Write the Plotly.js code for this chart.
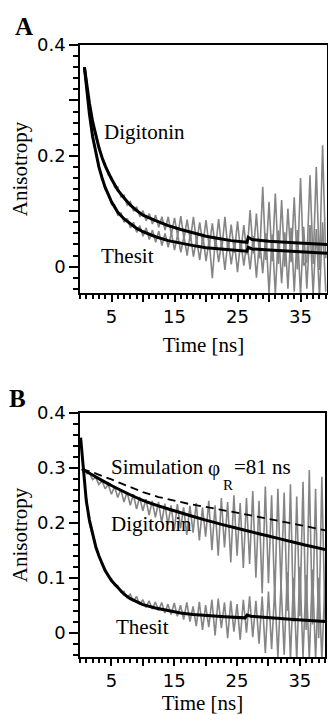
<!DOCTYPE html>
<html>
<head>
<meta charset="utf-8">
<script src="https://cdn.plot.ly/plotly-3.0.1.min.js"></script>
<style>
html,body{margin:0;padding:0;background:#fff;}
#chart{width:328px;height:715px;}
</style>
</head>
<body>
<div id="chart"></div>
<script>
// ---------- shared time grid of the measured (noisy) data, ns ----------
const timeGrid = [1,1.5,2,2.5,3,3.5,4,4.5,5,5.5,6,6.5,7,7.5,8,8.5,9,9.5,10,10.5,
  11,11.5,12,12.5,13,13.5,14,14.5,15,15.5,16,16.5,17,17.5,18,18.5,19,19.5,20,20.5,
  21,21.5,22,22.5,23,23.5,24,24.5,25,25.5,26,26.5,27,27.5,28,28.5,29,29.5,30,30.5,
  31,31.5,32,32.5,33,33.5,34,34.5,35,35.5,36,36.5,37,37.5,38,38.5,39];

// ---------- Panel A : measured anisotropy ----------
const dataA_digitonin = [0.338,0.292,0.265,0.233,0.218,0.194,0.186,0.165,0.162,0.143,
  0.144,0.126,0.129,0.111,0.117,0.100,0.108,0.090,0.101,0.083,
  0.096,0.077,0.093,0.071,0.090,0.066,0.090,0.058,0.088,0.055,
  0.091,0.050,0.085,0.047,0.090,0.043,0.080,0.040,0.084,0.036,
  0.078,0.033,0.086,0.030,0.090,0.028,0.076,0.025,0.082,0.026,
  0.075,0.022,0.102,0.024,0.096,0.015,0.144,0.012,0.117,0.010,
  0.132,0.005,0.120,0.000,0.105,0.008,0.125,-0.005,0.160,0.002,
  0.010,0.165,0.005,0.180,-0.006,0.219,0.015];
const dataA_thesit = [0.322,0.279,0.232,0.208,0.177,0.163,0.139,0.133,0.112,0.111,
  0.093,0.097,0.080,0.087,0.070,0.080,0.062,0.074,0.055,0.070,
  0.049,0.066,0.044,0.064,0.038,0.060,0.035,0.062,0.030,0.058,
  0.026,0.055,0.020,0.060,0.018,0.050,0.012,0.056,0.010,0.048,
  -0.021,0.054,0.008,0.046,-0.006,0.050,0.004,0.045,-0.010,0.048,
  0.002,0.044,-0.005,0.055,-0.020,0.050,-0.012,0.060,-0.048,0.058,
  -0.050,0.065,-0.030,0.062,-0.040,0.070,-0.045,0.066,-0.052,0.072,
  -0.040,0.075,-0.050,0.068,-0.055,0.080,-0.045];

// ---------- Panel A : fitted curves ----------
const fitTimeA = [0.7,1.0,1.5,2.0,2.5,3.0,3.5,4.0,5.0,6.0,7.0,8.0,9.0,10,12,14,16,18,20,22,24,26.5,26.7,27.3,30,34,39.2];
const fitA_digitonin = [0.36,0.335,0.295,0.262,0.236,0.215,0.197,0.182,0.158,0.138,0.124,0.111,0.101,0.093,
  0.083,0.074,0.067,0.061,0.055,0.051,0.047,0.044,0.053,0.049,0.046,0.043,0.040];
const fitA_thesit = [0.36,0.325,0.275,0.235,0.205,0.180,0.160,0.143,0.117,0.098,0.086,0.077,0.069,0.063,
  0.054,0.047,0.042,0.038,0.034,0.032,0.030,0.028,0.035,0.032,0.030,0.027,0.024];

// ---------- Panel B : measured anisotropy ----------
const dataB_digitonin = [0.289,0.291,0.279,0.283,0.270,0.277,0.262,0.270,0.252,0.266,
  0.246,0.261,0.238,0.256,0.232,0.252,0.225,0.247,0.222,0.243,
  0.214,0.240,0.210,0.238,0.200,0.235,0.196,0.232,0.186,0.234,
  0.190,0.228,0.178,0.231,0.182,0.236,0.168,0.228,0.175,0.240,
  0.150,0.232,0.140,0.245,0.155,0.238,0.128,0.250,0.140,0.236,
  0.118,0.245,0.125,0.258,0.100,0.240,0.072,0.266,0.090,0.250,
  0.060,0.262,0.080,0.255,0.040,0.270,0.020,0.248,0.030,0.275,
  0.005,0.296,0.015,0.262,-0.010,0.284,0.020];
const dataB_thesit = [0.247,0.198,0.177,0.152,0.140,0.123,0.116,0.102,0.098,0.086,
  0.086,0.074,0.075,0.064,0.070,0.057,0.066,0.051,0.060,0.046,
  0.058,0.043,0.056,0.040,0.055,0.036,0.052,0.033,0.054,0.030,
  0.050,0.024,0.055,0.020,0.048,0.012,0.056,0.005,0.050,0.010,
  0.060,-0.005,0.062,0.008,0.055,-0.010,0.058,0.002,0.052,-0.013,
  0.060,0.000,0.066,-0.008,0.058,-0.020,0.066,-0.037,0.075,-0.030,
  0.080,-0.045,0.090,-0.040,0.110,-0.048,0.100,-0.050,0.120,-0.045,
  0.105,-0.050,0.115,-0.048,0.100,-0.050,0.095];

// ---------- Panel B : fitted curves and simulation ----------
const fitTimeB_thesit = [0.1,0.5,1.0,1.5,2.0,2.5,3.0,4.0,5.0,6.0,7.0,8.0,9.0,10,12,14,16,18,20,23,26.3,26.6,27.2,30,34,39.2];
const fitB_thesit = [0.355,0.298,0.240,0.205,0.178,0.157,0.140,0.113,0.095,0.082,0.070,0.062,0.056,0.051,
  0.045,0.040,0.036,0.033,0.031,0.029,0.027,0.032,0.030,0.027,0.024,0.020];
const fitTimeB_digitonin = [0.3,2,5,10,15,20,25,30,35,39.2];
const fitB_digitonin = [0.298,0.287,0.268,0.241,0.222,0.205,0.190,0.176,0.162,0.151];
const simTimeB = [0.3,2,5,7.5,10,12.5,15,17.5,20,22.5,25,27.5,30,32.5,35,37.5,39.2];
const simB = [0.298,0.292,0.279,0.267,0.256,0.247,0.240,0.234,0.229,0.224,0.219,0.213,0.207,0.202,0.196,0.190,0.186];

// ---------- tick labels ----------
const xTickVals = [5,10,15,20,25,30,35];
const xTickText = ['5','','15','','25','','35'];
const yTickValsA = [0,0.1,0.2,0.3,0.4];
const yTickTextA = ['0','','0.2','','0.4'];
const yTickValsB = [0,0.1,0.2,0.3,0.4];
const yTickTextB = ['0','0.1','0.2','0.3','0.4'];
const xMinorStep = 1;      // ns between minor ticks
const yMinorStep = 0.02;   // anisotropy units between minor ticks

// ---------- drawing ----------
const GRAY = '#858585';
const SERIF = 'Liberation Serif, Times New Roman, serif';
const SANS = 'DejaVu Sans, Arial, sans-serif';

function noisy(x, y, xa, ya) {
  return {x: x, y: y, xaxis: xa, yaxis: ya, type: 'scatter', mode: 'lines',
    line: {color: GRAY, width: 1.6}, hoverinfo: 'skip'};
}
function fit(x, y, xa, ya, dash, w) {
  return {x: x, y: y, xaxis: xa, yaxis: ya, type: 'scatter', mode: 'lines',
    line: {color: '#000', width: w || 3, dash: dash || 'solid'}, hoverinfo: 'skip'};
}

const traces = [
  noisy(timeGrid, dataA_digitonin, 'x', 'y'),
  noisy(timeGrid, dataA_thesit, 'x', 'y'),
  fit(fitTimeA, fitA_digitonin, 'x', 'y'),
  fit(fitTimeA, fitA_thesit, 'x', 'y'),
  noisy(timeGrid, dataB_digitonin, 'x2', 'y2'),
  noisy(timeGrid, dataB_thesit, 'x2', 'y2'),
  fit(simTimeB, simB, 'x2', 'y2', '8px,5px', 1.8),
  fit(fitTimeB_digitonin, fitB_digitonin, 'x2', 'y2'),
  fit(fitTimeB_thesit, fitB_thesit, 'x2', 'y2')
];
traces[7].line.shape = 'spline';

function xAxis(domain, anchor, range, standoff) {
  return {domain: domain, anchor: anchor, range: range,
    tickmode: 'array', tickvals: xTickVals, ticktext: xTickText,
    ticks: 'outside', ticklen: 7, tickwidth: 2, tickcolor: '#000',
    minor: {ticks: 'outside', tickmode: 'linear', tick0: 0, dtick: xMinorStep, ticklen: 4, tickwidth: 1.5, tickcolor: '#000'},
    showline: true, linecolor: '#000', linewidth: 1.5, mirror: true,
    showgrid: false, zeroline: false,
    tickfont: {family: SANS, size: 18, color: '#000'},
    title: {text: 'Time [ns]', font: {family: SERIF, size: 21, color: '#000'}, standoff: standoff}};
}
function yAxis(domain, anchor, range, vals, text) {
  return {domain: domain, anchor: anchor, range: range,
    tickmode: 'array', tickvals: vals, ticktext: text,
    ticks: 'outside', ticklen: 9, tickwidth: 2, tickcolor: '#000',
    minor: {ticks: 'outside', tickmode: 'linear', tick0: 0, dtick: yMinorStep, ticklen: 5, tickwidth: 1.5, tickcolor: '#000'},
    showline: true, linecolor: '#000', linewidth: 1.5, mirror: true,
    showgrid: false, zeroline: false,
    tickfont: {family: SANS, size: 18, color: '#000'},
    title: {text: 'Anisotropy', font: {family: SERIF, size: 21, color: '#000'}, standoff: 4}};
}

function label(text, x, y, xref, yref, size) {
  return {text: text, x: x, y: y, xref: xref, yref: yref, xanchor: 'left', yanchor: 'middle',
    showarrow: false, borderpad: 0, font: {family: SERIF, size: size || 21, color: '#000'}};
}

const layout = {
  width: 328, height: 715,
  margin: {l: 80, r: 1, t: 45, b: 58},
  paper_bgcolor: '#fff', plot_bgcolor: '#fff',
  showlegend: false,
  xaxis: xAxis([0, 1], 'y', [0, 39.2], 11),
  yaxis: yAxis([0.5948, 1], 'x', [-0.0475, 0.4], yTickValsA, yTickTextA),
  xaxis2: xAxis([0, 0.9919], 'y2', [0, 39], 8),
  yaxis2: yAxis([0, 0.3987], 'x2', [-0.0443, 0.4], yTickValsB, yTickTextB),
  annotations: [
    {text: '<b>A</b>', x: -0.2267, y: 1.031, xref: 'paper', yref: 'paper', xanchor: 'center', yanchor: 'middle',
      showarrow: false, font: {family: SERIF, size: 25, color: '#000'}},
    {text: '<b>B</b>', x: -0.255, y: 0.4232, xref: 'paper', yref: 'paper', xanchor: 'center', yanchor: 'middle',
      showarrow: false, font: {family: SERIF, size: 25, color: '#000'}},
    label('Digitonin', 3.65, 0.243, 'x', 'y'),
    label('Thesit', 3.17, 0.020, 'x', 'y'),
    // "Simulation φ_R =81 ns", set piece by piece
    label('Simulation', 4.78, 0.302, 'x2', 'y2'),
    label('φ', 20.2, 0.300, 'x2', 'y2'),
    label('R', 22.6, 0.268, 'x2', 'y2', 15),
    label('=81 ns', 24.4, 0.302, 'x2', 'y2'),
    label('Digitonin', 4.78, 0.197, 'x2', 'y2'),
    label('Thesit', 5.57, 0.0095, 'x2', 'y2')
  ]
};

Plotly.newPlot('chart', traces, layout, {displayModeBar: false});
</script>
</body>
</html>
